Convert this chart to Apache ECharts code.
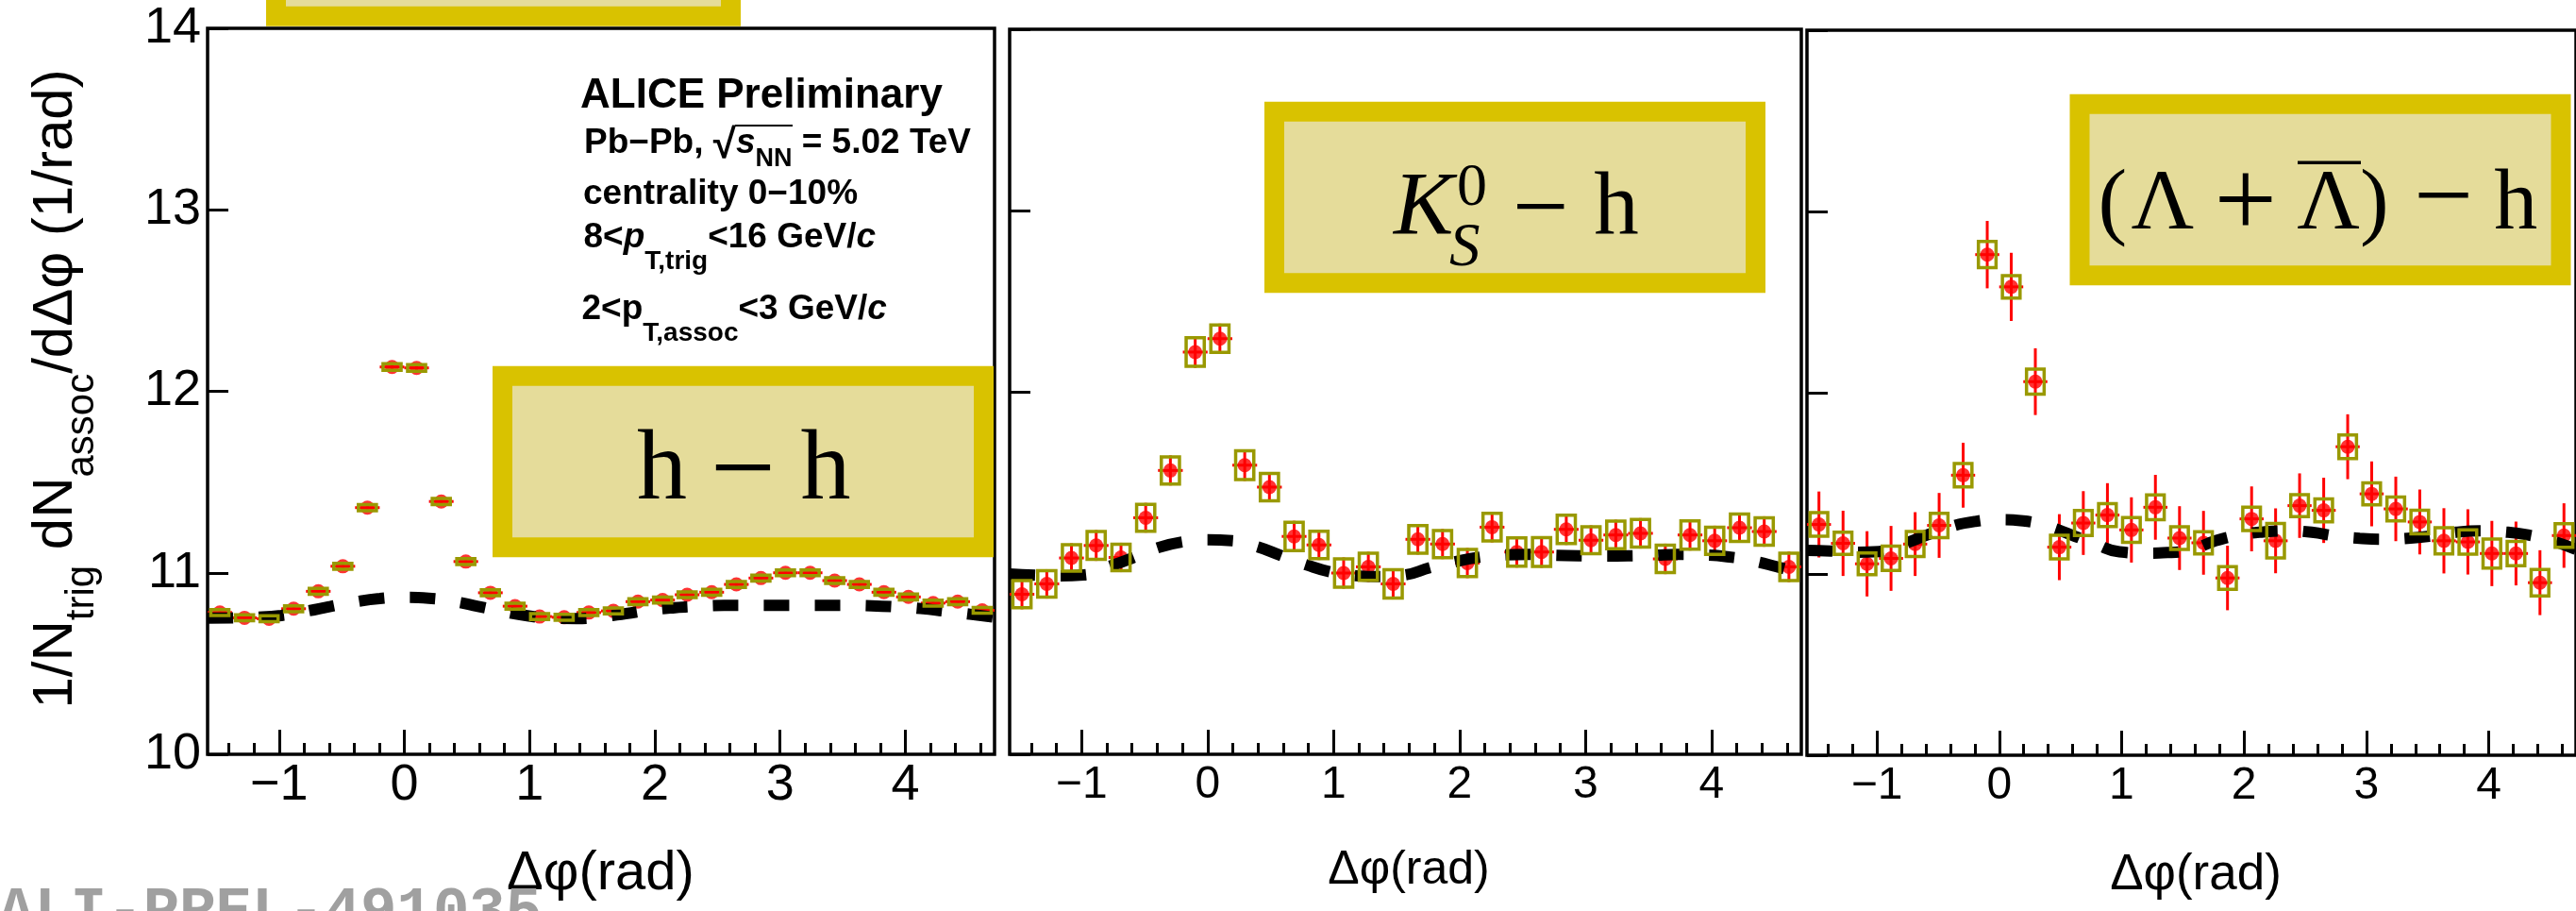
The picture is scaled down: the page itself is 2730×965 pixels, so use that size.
<!DOCTYPE html>
<html>
<head>
<meta charset="utf-8">
<script src="https://cdn.jsdelivr.net/npm/echarts@6/dist/echarts.min.js"></script>
<style>
  html, body { margin: 0; padding: 0; background: #ffffff; }
  #chart { width: 2730px; height: 965px; }
</style>
</head>
<body>
<div id="chart"></div>
<script>
// Δφ bin centres (32 bins over [-π/2, 3π/2])
const binCenters = [-1.473, -1.276, -1.080, -0.884, -0.687, -0.491, -0.295, -0.098,
                     0.098,  0.295,  0.491,  0.687,  0.884,  1.080,  1.276,  1.473,
                     1.669,  1.865,  2.062,  2.258,  2.454,  2.651,  2.847,  3.043,
                     3.240,  3.436,  3.633,  3.829,  4.025,  4.222,  4.418,  4.614];

// Δφ sampling of the flow-modulated background curves
const flowPhi = [-1.571, -1.374, -1.178, -0.982, -0.785, -0.589, -0.393, -0.196, 0.000,
                  0.196,  0.393,  0.589,  0.785,  0.982,  1.178,  1.374,  1.571,  1.767,
                  1.963,  2.160,  2.356,  2.553,  2.749,  2.945,  3.142,  3.338,  3.534,
                  3.731,  3.927,  4.123,  4.320,  4.516,  4.712];

// h-h
const hhYield = [10.781, 10.752, 10.747, 10.802, 10.898, 11.036, 11.359, 12.134,
                 12.129, 11.393, 11.062, 10.890, 10.816, 10.759, 10.755, 10.781,
                 10.790, 10.841, 10.850, 10.879, 10.893, 10.936, 10.971, 11.000,
                 11.000, 10.957, 10.936, 10.893, 10.867, 10.833, 10.841, 10.793];
const hhStat = [0.010, 0.010, 0.010, 0.010, 0.010, 0.010, 0.010, 0.011,
                0.011, 0.010, 0.010, 0.010, 0.010, 0.010, 0.010, 0.010,
                0.010, 0.010, 0.010, 0.010, 0.010, 0.010, 0.010, 0.010,
                0.010, 0.010, 0.010, 0.010, 0.010, 0.010, 0.010, 0.010];
const hhSyst = [0.016, 0.016, 0.016, 0.016, 0.016, 0.016, 0.017, 0.018,
                0.018, 0.017, 0.016, 0.016, 0.016, 0.016, 0.016, 0.016,
                0.016, 0.016, 0.016, 0.016, 0.016, 0.016, 0.016, 0.016,
                0.016, 0.016, 0.016, 0.016, 0.016, 0.016, 0.016, 0.016];
const hhFlow = [10.750, 10.752, 10.755, 10.765, 10.788, 10.815, 10.840, 10.858, 10.865,
                10.860, 10.842, 10.815, 10.787, 10.763, 10.750, 10.748, 10.757, 10.775,
                10.795, 10.808, 10.816, 10.820, 10.820, 10.820, 10.820, 10.820, 10.820,
                10.818, 10.812, 10.803, 10.788, 10.772, 10.755];

// K0S-h
const k0sYield = [10.883, 10.940, 11.083, 11.152, 11.086, 11.305, 11.566, 12.219,
                  12.293, 11.595, 11.474, 11.202, 11.155, 11.000, 11.034, 10.940,
                  11.186, 11.160, 11.055, 11.253, 11.116, 11.116, 11.241, 11.181,
                  11.210, 11.219, 11.078, 11.210, 11.178, 11.250, 11.229, 11.034];
const k0sStat = [0.083, 0.081, 0.081, 0.085, 0.081, 0.082, 0.083, 0.087,
                 0.083, 0.087, 0.083, 0.086, 0.083, 0.086, 0.083, 0.086,
                 0.084, 0.083, 0.083, 0.084, 0.086, 0.087, 0.086, 0.082,
                 0.084, 0.084, 0.084, 0.086, 0.083, 0.083, 0.084, 0.084];
const k0sSyst = [0.075, 0.073, 0.073, 0.077, 0.073, 0.074, 0.075, 0.079,
                 0.075, 0.079, 0.075, 0.078, 0.075, 0.078, 0.075, 0.078,
                 0.076, 0.075, 0.075, 0.076, 0.078, 0.079, 0.078, 0.074,
                 0.076, 0.076, 0.076, 0.078, 0.075, 0.075, 0.076, 0.076];
const k0sFlow = [10.995, 10.988, 10.985, 10.990, 11.035, 11.085, 11.140, 11.172, 11.183,
                 11.178, 11.145, 11.095, 11.045, 11.005, 10.985, 10.980, 10.990, 11.030,
                 11.062, 11.088, 11.100, 11.103, 11.098, 11.095, 11.094, 11.095, 11.098,
                 11.103, 11.100, 11.090, 11.068, 11.035, 10.998];

// (Λ + anti-Λ)-h
const lamYield = [11.273, 11.169, 11.056, 11.086, 11.165, 11.268, 11.545, 12.762,
                  12.584, 12.061, 11.148, 11.281, 11.325, 11.243, 11.368, 11.198,
                  11.172, 10.978, 11.304, 11.183, 11.377, 11.351, 11.702, 11.442,
                  11.359, 11.287, 11.183, 11.177, 11.113, 11.113, 10.952, 11.212];
const lamStat = [0.182, 0.180, 0.180, 0.179, 0.176, 0.179, 0.179, 0.186,
                 0.188, 0.184, 0.182, 0.176, 0.176, 0.180, 0.179, 0.176,
                 0.176, 0.178, 0.179, 0.179, 0.178, 0.180, 0.179, 0.179,
                 0.178, 0.179, 0.180, 0.180, 0.180, 0.176, 0.179, 0.178];
const lamSyst = [0.065, 0.061, 0.060, 0.067, 0.069, 0.067, 0.065, 0.072,
                 0.062, 0.069, 0.065, 0.069, 0.063, 0.068, 0.068, 0.063,
                 0.061, 0.063, 0.065, 0.095, 0.061, 0.063, 0.065, 0.061,
                 0.066, 0.065, 0.072, 0.067, 0.080, 0.067, 0.073, 0.065];
const lamFlow = [11.130, 11.126, 11.120, 11.124, 11.165, 11.215, 11.262, 11.290, 11.300,
                 11.293, 11.263, 11.216, 11.165, 11.122, 11.115, 11.118, 11.135, 11.183,
                 11.215, 11.232, 11.238, 11.230, 11.210, 11.197, 11.192, 11.197, 11.210,
                 11.230, 11.238, 11.232, 11.215, 11.183, 11.135];

// axis ticks
const xMajorTicks = [-1, 0, 1, 2, 3, 4];
const xMinorTicks = [-1.4, -1.2, -0.8, -0.6, -0.4, -0.2, 0.2, 0.4, 0.6, 0.8,
                     1.2, 1.4, 1.6, 1.8, 2.2, 2.4, 2.6, 2.8, 3.2, 3.4, 3.6, 3.8,
                     4.2, 4.4, 4.6];

const SANS = "'Liberation Sans', Arial, Helvetica, sans-serif";
const SERIF = "'Liberation Serif', 'Times New Roman', serif";
const MONO = "'Liberation Mono', 'Courier New', monospace";
const RED = '#ff0000';
const OLIVE = '#999900';
const BIN_HALF = Math.PI / 32;   // horizontal bar = half bin width
const BOX_HALF = 0.072;          // half width of systematic boxes (rad)
const PHI_MIN = -Math.PI / 2;
const PHI_MAX = 3 * Math.PI / 2;

const panels = [
  { yields: hhYield,  stat: hhStat,  syst: hhSyst,  flow: hhFlow,
    grid: { left: 220,  top: 30, width: 834, height: 769 }, labelSize: 54 },
  { yields: k0sYield, stat: k0sStat, syst: k0sSyst, flow: k0sFlow,
    grid: { left: 1070, top: 31, width: 839, height: 768 }, labelSize: 48 },
  { yields: lamYield, stat: lamStat, syst: lamSyst, flow: lamFlow,
    grid: { left: 1915, top: 32, width: 826, height: 768 }, labelSize: 48 }
];

function renderStat(params, api) {
  const x = api.value(0), y = api.value(1), e = api.value(2);
  const top = api.coord([x, y + e]);
  const bot = api.coord([x, y - e]);
  const l = api.coord([x - BIN_HALF, y]);
  const r = api.coord([x + BIN_HALF, y]);
  return {
    type: 'group',
    children: [
      { type: 'line', shape: { x1: top[0], y1: top[1], x2: bot[0], y2: bot[1] },
        style: { stroke: RED, lineWidth: 3 } },
      { type: 'line', shape: { x1: l[0], y1: l[1], x2: r[0], y2: r[1] },
        style: { stroke: RED, lineWidth: 3 } }
    ]
  };
}

function renderSyst(params, api) {
  const x = api.value(0), y = api.value(1), e = api.value(2);
  const a = api.coord([x - BOX_HALF, y + e]);
  const b = api.coord([x + BOX_HALF, y - e]);
  return {
    type: 'rect',
    shape: { x: a[0], y: a[1], width: b[0] - a[0], height: b[1] - a[1] },
    style: { fill: 'none', stroke: OLIVE, lineWidth: 3.5 }
  };
}

const grids = [], xAxes = [], yAxes = [], series = [];

panels.forEach((p, i) => {
  grids.push(Object.assign({ show: true, borderColor: '#000', borderWidth: 3.5,
                             backgroundColor: 'transparent' }, p.grid));
  yAxes.push({
    type: 'value', gridIndex: i, min: 10, max: 14, interval: 1, position: 'left',
    axisLine: { show: false, onZero: false },
    splitLine: { show: false },
    axisTick: { show: true, inside: true, length: 22, lineStyle: { color: '#000', width: 3 } },
    axisLabel: { show: i === 0, margin: 7, fontSize: 54, fontFamily: SANS, color: '#000' }
  });
});

// major ticks + labels
panels.forEach((p, i) => {
  xAxes.push({
    type: 'value', gridIndex: i, min: PHI_MIN, max: PHI_MAX, position: 'bottom',
    axisLine: { show: false, onZero: false },
    splitLine: { show: false },
    axisTick: { show: true, inside: true, length: 26, customValues: xMajorTicks,
                lineStyle: { color: '#000', width: 3 } },
    axisLabel: { show: true, customValues: xMajorTicks, margin: i === 0 ? 6 : 9,
                 fontSize: p.labelSize, fontFamily: SANS, color: '#000',
                 formatter: v => (v < 0 ? '\u2212' + Math.abs(v) : String(v)) }
  });
});
// minor ticks
panels.forEach((p, i) => {
  xAxes.push({
    type: 'value', gridIndex: i, min: PHI_MIN, max: PHI_MAX, position: 'bottom',
    axisLine: { show: false, onZero: false },
    splitLine: { show: false },
    axisLabel: { show: false },
    axisTick: { show: true, inside: true, length: 12, customValues: xMinorTicks,
                lineStyle: { color: '#000', width: 3 } }
  });
});

panels.forEach((p, i) => {
  series.push({
    type: 'custom', xAxisIndex: i, yAxisIndex: i, z: 2, silent: true,
    encode: { x: 0, y: 1 },
    data: binCenters.map((x, j) => [x, p.yields[j], p.stat[j]]),
    renderItem: renderStat
  });
  series.push({
    type: 'scatter', xAxisIndex: i, yAxisIndex: i, z: 3, silent: true,
    symbol: 'circle', symbolSize: 15, itemStyle: { color: RED },
    data: binCenters.map((x, j) => [x, p.yields[j]])
  });
  series.push({
    type: 'line', xAxisIndex: i, yAxisIndex: i, z: 4, silent: true,
    smooth: true, symbol: 'none',
    lineStyle: { color: '#000', width: 12, type: [27, 27], cap: 'butt' },
    data: flowPhi.map((x, j) => [x, p.flow[j]])
  });
  series.push({
    type: 'custom', xAxisIndex: i, yAxisIndex: i, z: 5, silent: true,
    encode: { x: 0, y: 1 },
    data: binCenters.map((x, j) => [x, p.yields[j], p.syst[j]]),
    renderItem: renderSyst
  });
});

// label boxes: stroke centred on the outline, 21 px frame
function labelBox(x, y) {
  return { type: 'rect', z: 10, shape: { x: x, y: y, width: 510, height: 181.5 },
           style: { fill: '#E5DC9A', stroke: '#D9C200', lineWidth: 21 } };
}
function txt(text, x, y, size, family, opts) {
  return { type: 'text', z: 11, x: x, y: y,
           style: Object.assign({ text: text, fontSize: size, fontFamily: family,
                                  fill: '#000', align: 'left', verticalAlign: 'middle' }, opts || {}) };
}

const infoRich = {
  b:    { fontSize: 37, fontWeight: 'bold', fontFamily: SANS, fill: '#000', verticalAlign: 'middle' },
  bi:   { fontSize: 37, fontWeight: 'bold', fontStyle: 'italic', fontFamily: SANS, fill: '#000', verticalAlign: 'middle' },
  rt:   { fontSize: 44, fontWeight: 'bold', fontFamily: SANS, fill: '#000', verticalAlign: 'middle', padding: [6, 0, 0, 0] },
  nn:   { fontSize: 27, fontWeight: 'bold', fontFamily: SANS, fill: '#000', verticalAlign: 'middle', padding: [33, 0, 0, 0] },
  sub:  { fontSize: 28, fontWeight: 'bold', fontFamily: SANS, fill: '#000', verticalAlign: 'middle', padding: [50, 0, 0, 0] }
};

const graphics = [
  // partial label box at the top edge
  { type: 'rect', z: 10, shape: { x: 292.5, y: -100, width: 482, height: 117.2 },
    style: { fill: '#E5DC9A', stroke: '#D9C200', lineWidth: 21 } },
  labelBox(532.5, 398.2),
  labelBox(1350.5, 118.2),
  labelBox(2204, 110.2),

  // h − h
  txt('h', 675, 499.9, 106, SERIF),
  txt('\u2212', 752.8, 504, 123, SERIF),
  txt('h', 848.5, 499.9, 106, SERIF),

  // K0S − h
  txt('K', 1477, 223.3, 95, SERIF, { fontStyle: 'italic' }),
  txt('0', 1544, 199.9, 64, SERIF),
  txt('S', 1536, 264.1, 65, SERIF, { fontStyle: 'italic' }),
  txt('\u2212', 1602.9, 226, 106, SERIF),
  txt('h', 1689.2, 223.3, 95, SERIF),

  // (Λ + Λ̄) − h
  txt('(', 2223.6, 217.9, 92, SERIF),
  txt('\u039B', 2258.5, 217.9, 92, SERIF),
  txt('+', 2346.5, 220, 118, SERIF),
  txt('\u039B', 2434.2, 217.9, 92, SERIF),
  { type: 'line', z: 11, shape: { x1: 2435, y1: 172.3, x2: 2502, y2: 172.3 },
    style: { stroke: '#000', lineWidth: 3.5 } },
  txt(')', 2501, 217.9, 92, SERIF),
  txt('\u2212', 2557.8, 214.5, 112, SERIF),
  txt('h', 2643.2, 217.9, 92, SERIF),

  // collaboration / selection text
  txt('ALICE Preliminary', 615, 101.5, 44, SANS, { fontWeight: 'bold' }),
  { type: 'text', z: 11, x: 619, y: 152.2,
    style: { text: '{b|Pb\u2212Pb, }{rt|\u221A}{bi|s}{nn|NN}{b| = 5.02 TeV}', rich: infoRich,
             align: 'left', verticalAlign: 'middle' } },
  { type: 'line', z: 11, shape: { x1: 779, y1: 133, x2: 840, y2: 133 },
    style: { stroke: '#000', lineWidth: 2 } },
  txt('centrality 0\u221210%', 618, 205.5, 37, SANS, { fontWeight: 'bold' }),
  { type: 'text', z: 11, x: 618.5, y: 252.2,
    style: { text: '{b|8<}{bi|p}{sub|T,trig}{b|<16 GeV/}{bi|c}', rich: infoRich,
             align: 'left', verticalAlign: 'middle' } },
  { type: 'text', z: 11, x: 616.5, y: 328.2,
    style: { text: '{b|2<p}{sub|T,assoc}{b|<3 GeV/}{bi|c}', rich: infoRich,
             align: 'left', verticalAlign: 'middle' } },

  // y-axis title
  { type: 'text', z: 11, x: 59, y: 412, rotation: Math.PI / 2,
    style: {
      text: '{m|1/N}{s|trig}{m| dN}{s|assoc}{m|/d\u0394\u03C6 (1/rad)}',
      align: 'center', verticalAlign: 'middle',
      rich: {
        m: { fontSize: 60, fontFamily: SANS, fill: '#000', verticalAlign: 'middle' },
        s: { fontSize: 42, fontFamily: SANS, fill: '#000', verticalAlign: 'middle', padding: [56, 0, 0, 0] }
      }
    } },

  // x-axis titles
  txt('\u0394\u03C6(rad)', 636.5, 925.9, 58, SANS, { align: 'center' }),
  txt('\u0394\u03C6(rad)', 1493, 922.7, 50, SANS, { align: 'center' }),
  txt('\u0394\u03C6(rad)', 2327, 927.6, 53, SANS, { align: 'center' }),

  // figure id
  txt('ALI-PREL-491035', -2, 968, 64, MONO, { fontWeight: 'bold', fill: '#a0a0a0' })
];

const chart = echarts.init(document.getElementById('chart'), null, { renderer: 'canvas' });
chart.setOption({
  animation: false,
  backgroundColor: '#ffffff',
  grid: grids,
  xAxis: xAxes,
  yAxis: yAxes,
  series: series,
  graphic: graphics
});
</script>
</body>
</html>
